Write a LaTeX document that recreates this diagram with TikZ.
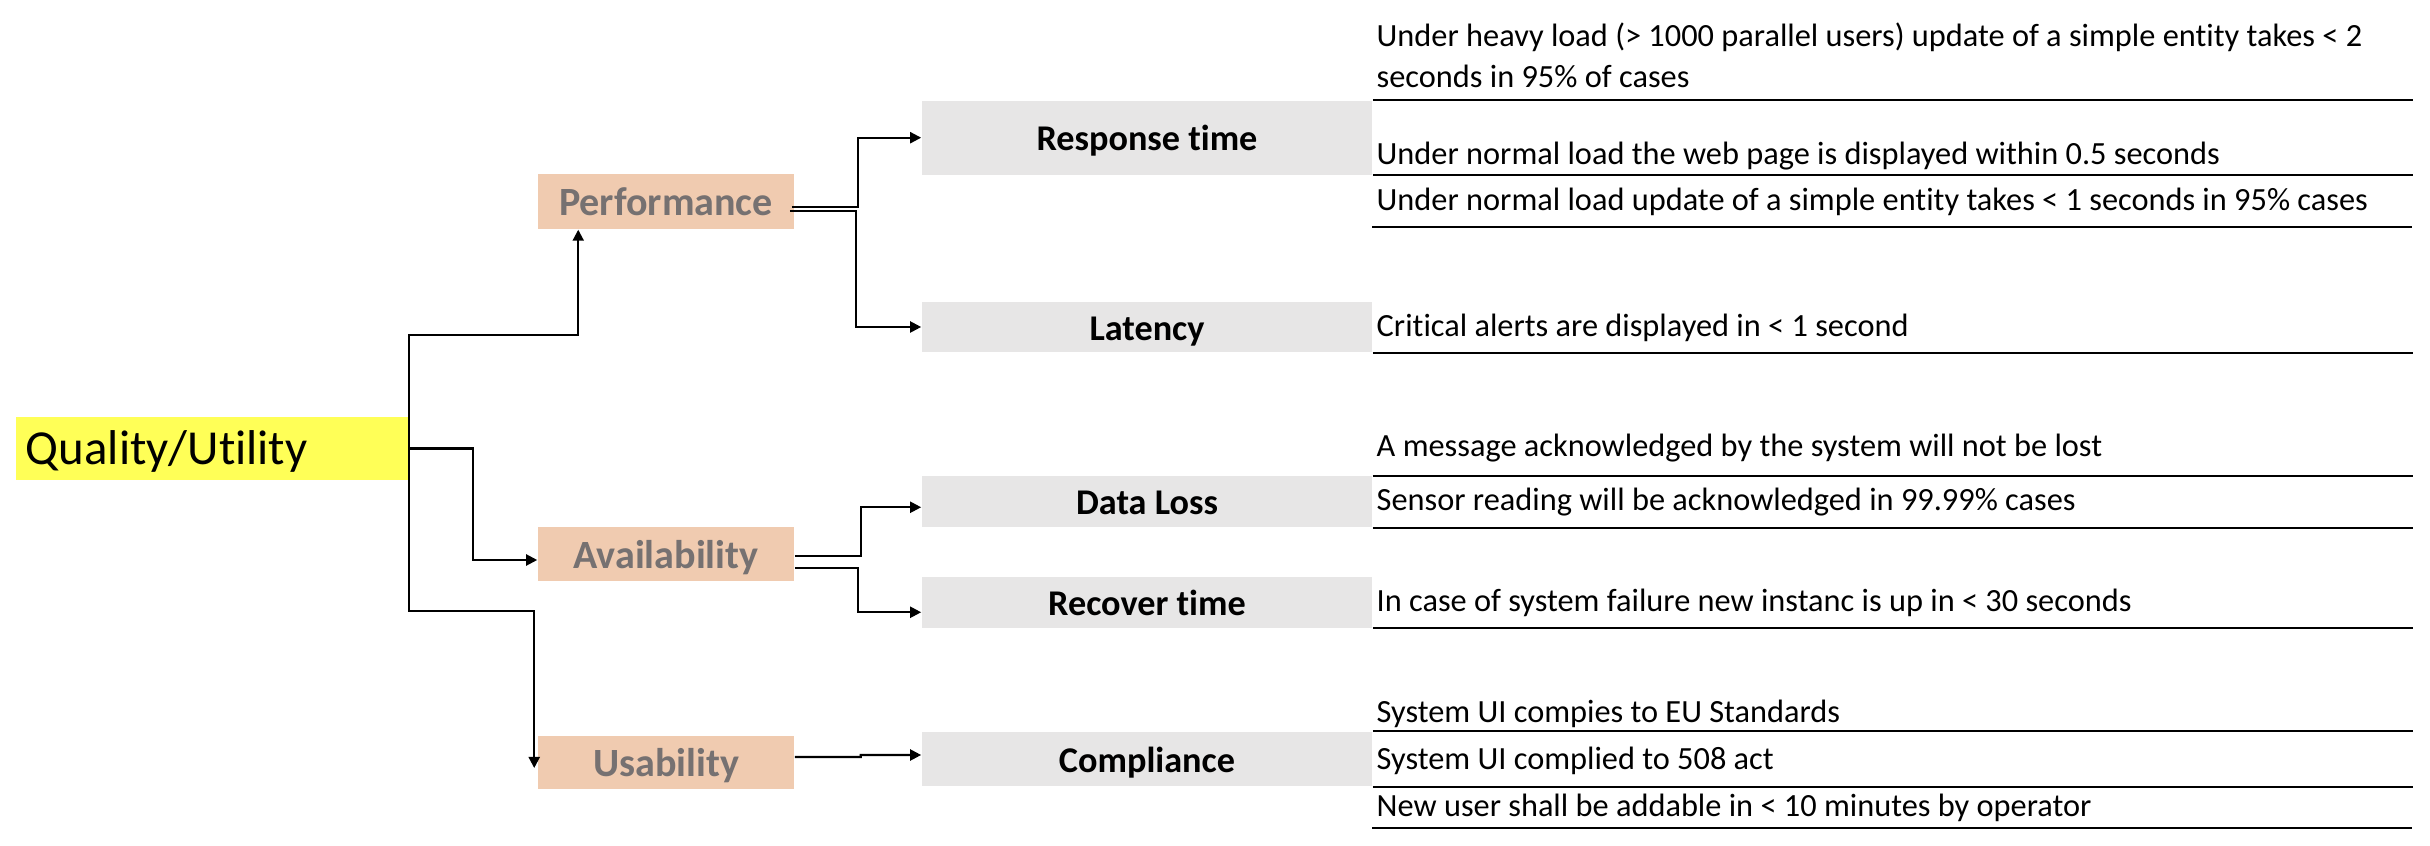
\documentclass[tikz,border=0pt]{standalone}
\usepackage{fontspec}
\setmainfont{Carlito}[Ligatures=NoCommon]
\usetikzlibrary{arrows.meta}

\definecolor{qyellow}{RGB}{255,255,87}
\definecolor{qpeach}{RGB}{240,203,176}
\definecolor{qgray}{RGB}{231,230,230}
\definecolor{qtext}{RGB}{118,113,113}

\begin{document}
\begin{tikzpicture}[x=0.01cm, y=-0.01cm,
    attr/.style={fill=qpeach, text=qtext, font=\fontsize{11.4}{13}\selectfont\bfseries,
        minimum width=25.6mm, text height=0.85em, text depth=0.05em, inner sep=0pt},
    refine/.style={fill=qgray, font=\fontsize{10.3}{12}\selectfont\bfseries,
        minimum width=45mm, text height=0.8em, text depth=0.05em, inner sep=0pt},
    req/.style={anchor=base west, inner sep=0pt, font=\fontsize{9.2}{11}\selectfont},
    link/.style={line width=0.6pt, -{Triangle[length=1.1mm,width=1.1mm]}},
    rule/.style={line width=0.6pt}]
    \useasboundingbox (0,0) rectangle (2430,846);

    % Root
    \node[fill=qyellow, minimum width=39.2mm, minimum height=6.3mm, text width=37.2mm,
        align=left, inner xsep=1mm, font=\fontsize{13.9}{16}\selectfont,
        text height=1em, text depth=0.1em] (quality) at (212,448.5) {Quality/Utility};

    % Quality attributes
    \node[attr, minimum height=5.5mm] (perf) at (666,201.5) {Performance};
    \node[attr, minimum height=5.4mm] (avail) at (666,554) {Availability};
    \node[attr, minimum height=5.3mm] (usab) at (666,762.5) {Usability};

    % Refinements
    \node[refine, minimum height=7.4mm] (resp) at (1147,137.7) {Response time};
    \node[refine, minimum height=5mm] (lat) at (1147,327) {Latency};
    \node[refine, minimum height=5.05mm] (dloss) at (1147,501.75) {Data Loss};
    \node[refine, minimum height=5.05mm] (recov) at (1147,602.25) {Recover time};
    \node[refine, minimum height=5.4mm] (compl) at (1147,759) {Compliance};

    % Root to attributes
    \draw[link] (quality.east) -- ++(0,-113.5) -| ([xshift=4.1mm]perf.south west);
    \draw[link] (quality.east) -- ++(64,0) |- ([yshift=-0.6mm]avail.west);
    \draw[link] (quality.east) -- ++(0,162.5) -| ([xshift=-0.3mm,yshift=-0.55mm]usab.west);

    % Attributes to refinements
    \draw[link] ([xshift=-0.3mm,yshift=-0.55mm]perf.east) -- ++(66,0) |- (resp.west);
    \draw[link] ([xshift=-0.5mm,yshift=-0.92mm]perf.east) -- ++(66,0) |- (lat.west);
    \draw[link] ([yshift=-0.2mm]avail.east) -- ++(66,0) |- ([yshift=-0.55mm]dloss.west);
    \draw[link] ([yshift=-1.4mm]avail.east) -- ++(63,0) |- ([yshift=-1mm]recov.west);
    \draw[link] ([yshift=0.55mm]usab.east) -- ++(66,0) -- ++(0,-2) -- ([yshift=0.4mm]compl.west);

    % Scenarios
    \node[req] (resp1a) at (1376,46.7) {Under heavy load (> 1000 parallel users) update of a simple entity takes < 2};
    \node[req] (resp1b) at (1376,88) {seconds in 95\% of cases};
    \node[req] (resp2) at (1376,165) {Under normal load the web page is displayed within 0.5 seconds};
    \node[req] (resp3) at (1376,211) {Under normal load update of a simple entity takes < 1 seconds in 95\% cases};
    \node[req] (lat1) at (1376,337) {Critical alerts are displayed in < 1 second};
    \node[req] (dloss1) at (1376,457) {A message acknowledged by the system will not be lost};
    \node[req] (dloss2) at (1376,511) {Sensor reading will be acknowledged in 99.99\% cases};
    \node[req] (recov1) at (1376,611) {In case of system failure new instanc is up in < 30 seconds};
    \node[req] (compl1) at (1376,722) {System UI compies to EU Standards};
    \node[req] (compl2) at (1376,769) {System UI complied to 508 act};
    \node[req] (compl3) at (1376,816) {New user shall be addable in < 10 minutes by operator};

    % Underlines
    \draw[rule] (resp.north east) -- ++(1040,0);
    \draw[rule] (resp.south east) -- ++(1040,0);
    \draw[rule] (1372,227) -- ++(1040,0);
    \draw[rule] (lat.south east) -- ++(1040,0);
    \draw[rule] (dloss.north east) -- ++(1040,0);
    \draw[rule] (dloss.south east) -- ++(1040,0);
    \draw[rule] (recov.south east) -- ++(1040,0);
    \draw[rule] (compl.north east) -- ++(1040,0);
    \draw[rule] (compl.south east) -- ++(1040,0);
    \draw[rule] (1372,828) -- ++(1040,0);
\end{tikzpicture}
\end{document}
